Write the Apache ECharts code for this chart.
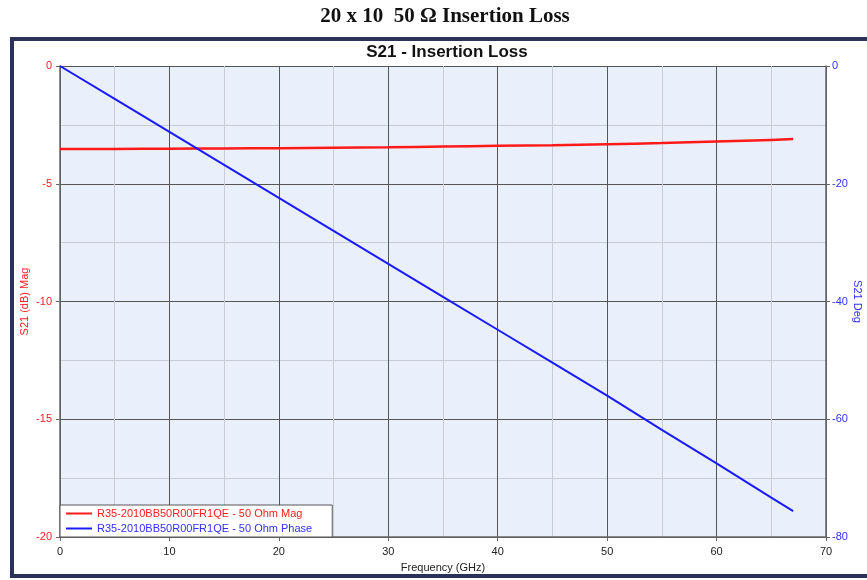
<!DOCTYPE html>
<html>
<head>
<meta charset="utf-8">
<script src="https://cdn.jsdelivr.net/npm/echarts@6/dist/echarts.min.js"></script>
<style>
  html, body { margin: 0; padding: 0; background: #ffffff; }
  #chart { width: 867px; height: 580px; }
</style>
</head>
<body>
<div id="chart"></div>
<script>
// Frequency sweep points (GHz)
const freqGHz = [0, 5, 10, 15, 20, 25, 30, 35, 40, 45, 50, 55, 60, 65, 67];
// S21 magnitude (dB)
const magDb = [-3.52, -3.52, -3.51, -3.50, -3.49, -3.47, -3.45, -3.42, -3.39, -3.36, -3.32, -3.27, -3.21, -3.14, -3.10];
// S21 phase (deg)
const phaseDeg = [0, -5.6, -11.2, -16.8, -22.4, -28.0, -33.6, -39.2, -44.8, -50.4, -56.0, -61.8, -67.5, -73.3, -75.6];

const magName = 'R35-2010BB50R00FR1QE - 50 Ohm Mag';
const phaseName = 'R35-2010BB50R00FR1QE - 50 Ohm Phase';

const chart = echarts.init(document.getElementById('chart'), null, { renderer: 'canvas' });

const pair = (xs, ys) => xs.map((x, i) => [x, ys[i]]);

chart.setOption({
  animation: false,
  backgroundColor: '#ffffff',
  graphic: [
    {
      type: 'rect',
      z: -10,
      shape: { x: 12, y: 39, width: 870, height: 537 },
      style: { fill: '#ffffff', stroke: '#2b3259', lineWidth: 4 }
    }
  ],
  title: [
    {
      text: '20 x 10  50 Ω Insertion Loss',
      left: 440,
      textAlign: 'center',
      top: 1,
      textStyle: { fontFamily: 'Liberation Serif', fontWeight: 'bold', fontSize: 21, color: '#111111' }
    },
    {
      text: 'S21 - Insertion Loss',
      left: 442,
      textAlign: 'center',
      top: 39,
      textStyle: { fontFamily: 'Liberation Sans', fontWeight: 'bold', fontSize: 17, color: '#111111' }
    }
  ],
  grid: {
    left: 60, right: 41, top: 66, bottom: 43,
    outerBoundsMode: 'none',
    containLabel: false,
    show: true,
    backgroundColor: '#eaf0fb',
    borderWidth: 0
  },
  legend: {
    left: 60, top: 505,
    orient: 'vertical',
    itemGap: 4,
    itemWidth: 26,
    itemHeight: 2,
    padding: [3, 20, 3, 6],
    backgroundColor: '#ffffff',
    borderColor: '#555555',
    borderWidth: 1,
    borderRadius: 0,
    icon: 'rect',
    textStyle: { fontFamily: 'Liberation Sans', fontSize: 11, padding: [0, 0, 0, 0] },
    data: [
      { name: magName, textStyle: { color: '#ff2020' } },
      { name: phaseName, textStyle: { color: '#3030ff' } }
    ]
  },
  xAxis: {
    type: 'value',
    min: 0, max: 70, interval: 10,
    name: 'Frequency (GHz)',
    nameLocation: 'middle',
    nameGap: 25,
    nameTextStyle: { fontFamily: 'Liberation Sans', fontSize: 11, color: '#222222' },
    axisLine: { show: true, onZero: false, lineStyle: { color: '#666666', width: 1.5 } },
    axisTick: { show: true, length: 4, lineStyle: { color: '#666666' } },
    axisLabel: { fontFamily: 'Liberation Sans', fontSize: 11, color: '#222222', margin: 9 },
    splitLine: { show: true, lineStyle: { color: '#555555', width: 1 } },
    minorTick: { show: false, splitNumber: 2 },
    minorSplitLine: { show: true, lineStyle: { color: '#c8ccd4', width: 1 } }
  },
  yAxis: [
    {
      type: 'value',
      min: -20, max: 0, interval: 5,
      position: 'left',
      name: 'S21 (dB) Mag',
      nameLocation: 'middle',
      nameGap: 30,
      nameMoveOverlap: false,
      nameRotate: 90,
      nameTextStyle: { fontFamily: 'Liberation Sans', fontSize: 11, color: '#ff2020' },
      axisLine: { show: true, lineStyle: { color: '#666666', width: 1.5 } },
      axisTick: { show: true, length: 4, lineStyle: { color: '#666666' } },
      axisLabel: { fontFamily: 'Liberation Sans', fontSize: 11, color: '#ff2020', margin: 8 },
      splitLine: { show: true, lineStyle: { color: '#555555', width: 1 } },
      minorTick: { show: false, splitNumber: 2 },
      minorSplitLine: { show: true, lineStyle: { color: '#c8ccd4', width: 1 } }
    },
    {
      type: 'value',
      min: -80, max: 0, interval: 20,
      position: 'right',
      name: 'S21 Deg',
      nameLocation: 'middle',
      nameGap: 26,
      nameMoveOverlap: false,
      nameRotate: -90,
      nameTextStyle: { fontFamily: 'Liberation Sans', fontSize: 11, color: '#3030ff' },
      axisLine: { show: true, lineStyle: { color: '#666666', width: 1.5 } },
      axisTick: { show: true, length: 4, lineStyle: { color: '#666666' } },
      axisLabel: { fontFamily: 'Liberation Sans', fontSize: 11, color: '#3030ff', margin: 6 },
      splitLine: { show: false }
    }
  ],
  series: [
    {
      name: magName,
      type: 'line',
      yAxisIndex: 0,
      data: pair(freqGHz, magDb),
      showSymbol: false,
      smooth: true,
      lineStyle: { color: '#ff1a1a', width: 2.5 },
      itemStyle: { color: '#ff1a1a' }
    },
    {
      name: phaseName,
      type: 'line',
      yAxisIndex: 1,
      data: pair(freqGHz, phaseDeg),
      showSymbol: false,
      lineStyle: { color: '#1a1aff', width: 2 },
      itemStyle: { color: '#1a1aff' }
    }
  ]
});
</script>
</body>
</html>
